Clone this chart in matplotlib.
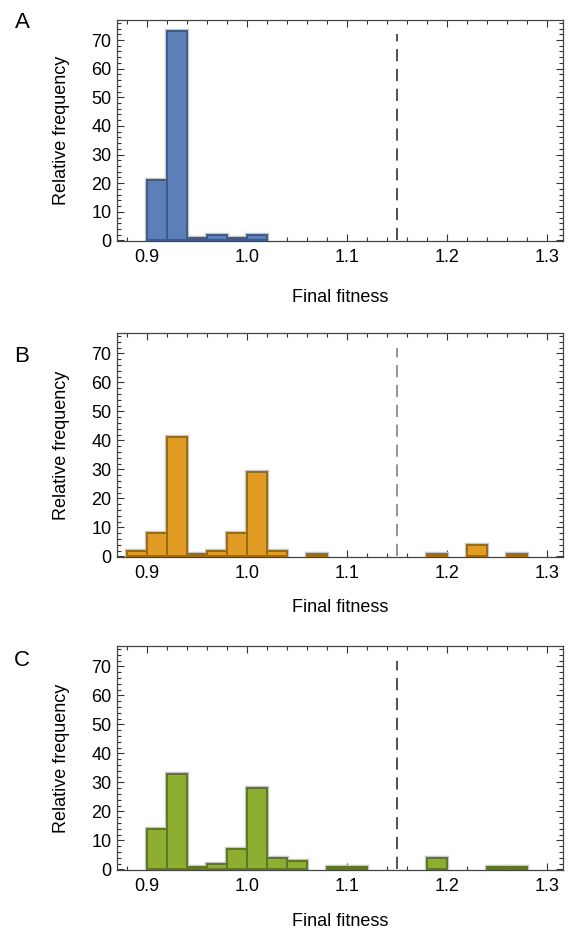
import numpy as np
import matplotlib
matplotlib.use("Agg")
import matplotlib.pyplot as plt
from matplotlib.ticker import MultipleLocator, FormatStrFormatter

plt.rcParams['font.family'] = ['Liberation Sans', 'DejaVu Sans']

# Histogram bins of final fitness (width 0.02) and relative frequencies (%)
bin_width = 0.02
edges_a = [0.90, 0.92, 0.94, 0.96, 0.98, 1.00]
freq_a = [21, 73, 1, 2, 1, 2]

edges_b = [0.88, 0.90, 0.92, 0.94, 0.96, 0.98, 1.00, 1.02, 1.06, 1.18, 1.22, 1.26]
freq_b = [2, 8, 41, 1, 2, 8, 29, 2, 1, 1, 4, 1]

edges_c = [0.90, 0.92, 0.94, 0.96, 0.98, 1.00, 1.02, 1.04, 1.08, 1.10, 1.18, 1.24, 1.26]
freq_c = [14, 33, 1, 2, 7, 28, 4, 3, 1, 1, 4, 1, 1]

panel_letters = ["A", "B", "C"]
fill_colors = ["#5b7fb6", "#e09c24", "#8eae31"]
edge_colors = ["#3e5a88", "#9a6a14", "#5e7620"]
threshold = 1.15
threshold_top = 72

W, H = 570, 931
fig = plt.figure(figsize=(W / 100, H / 100), dpi=100)

# axes boxes in pixel coordinates: left, top, right, bottom
boxes = [(117, 20, 563, 241), (117, 333, 563, 557), (117, 646, 563, 870)]
letter_y = [22, 357, 660]
xlabel_y = [297, 607, 921]
dash_colors = ["#222222", "#777777", "#222222"]

data = [(edges_a, freq_a), (edges_b, freq_b), (edges_c, freq_c)]
fs = 13

for i, ((l, t, r, b), (edges, freq)) in enumerate(zip(boxes, data)):
    ax = fig.add_axes([l / W, 1 - b / H, (r - l) / W, (b - t) / H])
    # soft grey halo under each bar
    ax.bar(edges, freq, width=bin_width, align='edge', color='none',
           edgecolor='#c9c9c9', linewidth=3.2, zorder=2)
    ax.bar(edges, freq, width=bin_width, align='edge', color=fill_colors[i],
           edgecolor=edge_colors[i], linewidth=1.4, zorder=3)
    ax.vlines(threshold, 0, threshold_top, colors=dash_colors[i],
              linestyles=(0, (8, 5)), linewidth=1.1, zorder=4)

    ax.set_xlim(0.87, 1.316)
    ax.set_ylim(-0.2, 77)
    ax.xaxis.set_major_locator(MultipleLocator(0.1))
    ax.xaxis.set_minor_locator(MultipleLocator(0.02))
    ax.yaxis.set_major_locator(MultipleLocator(10))
    ax.yaxis.set_minor_locator(MultipleLocator(2))
    ax.xaxis.set_major_formatter(FormatStrFormatter('%.1f'))
    ax.tick_params(which='both', direction='in', top=True, right=True,
                   color='#333333', labelsize=fs, width=0.8)
    ax.tick_params(which='major', length=5)
    ax.tick_params(which='minor', length=2.8)
    ax.tick_params(axis='x', which='major', pad=6)
    ax.tick_params(axis='y', which='major', pad=4)
    for s in ax.spines.values():
        s.set_color('#444444')
        s.set_linewidth(0.9)

    fig.text(62 / W, 1 - (t + b) / 2 / H, "Relative frequency", fontsize=fs,
             rotation=90, ha='center', va='center')
    fig.text(340 / W, 1 - xlabel_y[i] / H, "Final fitness", fontsize=fs,
             ha='center', va='center')
    fig.text(22 / W, 1 - letter_y[i] / H, panel_letters[i], fontsize=16,
             ha='center', va='center')

fig.savefig("out.png", dpi=100)
